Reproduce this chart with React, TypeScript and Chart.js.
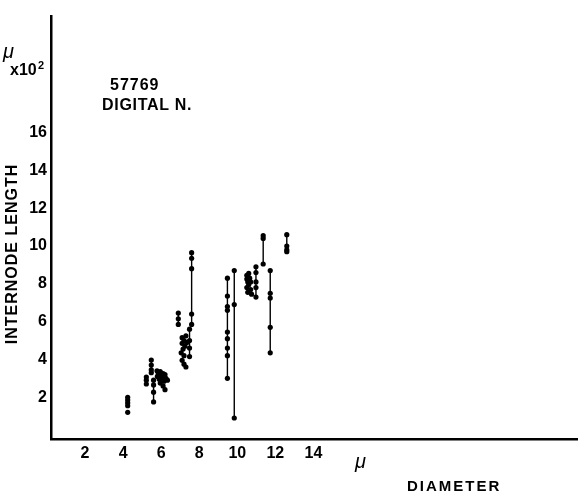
import React, { useEffect, useRef } from 'react';
import { Chart, registerables } from 'chart.js';

Chart.register(...registerables);

// Tick labels
const xTicks = [2, 4, 6, 8, 10, 12, 14];
const yTicks = [2, 4, 6, 8, 10, 12, 14, 16];

// Vertical connected series (same diameter, several internode lengths)
const stemX = [4.24, 5.48, 5.22, 5.6, 6.9, 7.6, 7.49, 9.48, 9.84, 10.98, 11.36, 11.73, 12.6];
const stemY = [
  [2.0, 1.85, 1.7, 1.55],
  [3.97, 3.7, 3.45, 3.3],
  [3.07, 2.9, 2.7],
  [2.9, 2.65, 2.27, 1.75],
  [6.45, 6.15, 5.85],
  [9.65, 9.35, 8.8, 6.4, 5.85],
  [5.6, 5.0, 4.6, 4.15],
  [8.3, 7.35, 6.8, 6.6, 5.45, 5.1, 4.6, 4.2, 3.0],
  [8.7, 6.9, 0.9],
  [8.9, 8.6, 8.1, 7.8, 7.3],
  [10.55, 10.4, 9.05],
  [8.7, 7.5, 7.25, 5.7, 4.35],
  [10.6, 10.0, 9.8, 9.7],
];

// Loose measurement points
const dotX = [
  4.24,
  5.78, 5.85, 5.8, 5.95, 6.0, 6.05, 5.9, 6.1, 6.15, 5.95, 6.1, 6.2, 6.25, 6.33, 6.2,
  7.1, 7.2, 7.1, 7.25, 7.15, 7.05, 7.2, 7.1, 7.2, 7.3, 7.35, 7.3,
  10.5, 10.6, 10.5, 10.65, 10.55, 10.6, 10.5, 10.7, 10.55, 10.75, 10.7,
];
const dotY = [
  1.2,
  3.4, 3.25, 3.1, 3.35, 3.15, 3.0, 2.95, 3.25, 2.85, 2.75, 2.6, 2.4, 3.0, 2.9, 3.2,
  5.15, 5.0, 4.85, 4.7, 4.55, 4.35, 4.2, 3.95, 3.75, 3.6, 4.9, 5.25,
  8.45, 8.55, 8.25, 8.3, 8.1, 7.95, 7.8, 7.7, 7.55, 7.45, 8.1,
];

const W = 581;
const H = 498;
const BOLD = '"Liberation Sans", Arial, sans-serif';

const textPlugin = {
  id: 'annotText',
  afterDraw(chart: any) {
    const ctx = chart.ctx as CanvasRenderingContext2D;
    ctx.save();
    ctx.fillStyle = '#000';
    ctx.textBaseline = 'alphabetic';
    const setLS = (v: string) => {
      try { (ctx as any).letterSpacing = v; } catch (e) { /* ignore */ }
    };

    // Y unit label
    ctx.textAlign = 'left';
    setLS('0px');
    ctx.font = `italic 20px ${BOLD}`;
    ctx.fillText('\u03bc', 3, 58);
    ctx.font = `bold 16px ${BOLD}`;
    ctx.fillText('x10', 10, 75);
    ctx.font = `bold 11px ${BOLD}`;
    ctx.fillText('2', 38, 69);

    // Specimen label
    setLS('1px');
    ctx.font = `bold 16px ${BOLD}`;
    ctx.fillText('57769', 110, 90);
    setLS('0.7px');
    ctx.fillText('DIGITAL N.', 102, 110);

    // Y axis title (rotated)
    ctx.save();
    ctx.translate(17, 254);
    ctx.rotate(-Math.PI / 2);
    ctx.textAlign = 'center';
    setLS('1px');
    ctx.font = `bold 16px ${BOLD}`;
    ctx.fillText('INTERNODE LENGTH', 0, 0);
    ctx.restore();

    // X unit + title
    ctx.textAlign = 'left';
    setLS('0px');
    ctx.font = `italic 20px ${BOLD}`;
    ctx.fillText('\u03bc', 355, 468);
    setLS('2px');
    ctx.font = `bold 15px ${BOLD}`;
    ctx.fillText('DIAMETER', 407, 491);
    ctx.restore();
  },
};

export default function App() {
  const ref = useRef<HTMLCanvasElement | null>(null);

  useEffect(() => {
    if (!ref.current) return;
    const datasets: any[] = stemX.map((x, i) => ({
      type: 'scatter',
      data: stemY[i].map((y) => ({ x, y })),
      showLine: true,
      borderColor: '#000',
      borderWidth: 1.4,
      backgroundColor: '#000',
      pointRadius: 2.6,
      pointBorderWidth: 0,
    }));
    datasets.push({
      type: 'scatter',
      data: dotX.map((x, i) => ({ x, y: dotY[i] })),
      showLine: false,
      backgroundColor: '#000',
      borderColor: '#000',
      pointRadius: 2.6,
      pointBorderWidth: 0,
    });

    const tickFont = { family: BOLD, size: 16, weight: 'bold' as const };

    const chart = new Chart(ref.current, {
      type: 'scatter',
      data: { datasets },
      options: {
        animation: false,
        responsive: false,
        devicePixelRatio: 1,
        layout: { padding: { left: 0, top: 16, right: 2, bottom: 0 } },
        plugins: { legend: { display: false }, tooltip: { enabled: false }, title: { display: false } },
        scales: {
          x: {
            type: 'linear',
            position: 'bottom',
            min: 0.21,
            max: 27.85,
            grid: { display: false, drawTicks: false },
            border: { display: true, color: '#000', width: 2.5 },
            ticks: { color: '#000', font: tickFont, padding: 5, autoSkip: false, maxRotation: 0 },
            afterBuildTicks: (s: any) => { s.ticks = xTicks.map((v) => ({ value: v })); },
            afterFit: (s: any) => { s.height = H - 439; },
          },
          y: {
            type: 'linear',
            min: -0.21,
            max: 22.17,
            grid: { display: false, drawTicks: false },
            border: { display: true, color: '#000', width: 2.5 },
            ticks: { color: '#000', font: tickFont, padding: 4, autoSkip: false },
            afterBuildTicks: (s: any) => { s.ticks = yTicks.map((v) => ({ value: v })); },
            afterFit: (s: any) => { s.width = 51; },
          },
        },
      } as any,
      plugins: [textPlugin],
    });
    return () => chart.destroy();
  }, []);

  return (
    <div style={{ position: 'absolute', left: 0, top: 0, width: W, height: H, background: '#fff' }}>
      <canvas ref={ref} width={W} height={H} style={{ display: 'block' }} />
    </div>
  );
}
